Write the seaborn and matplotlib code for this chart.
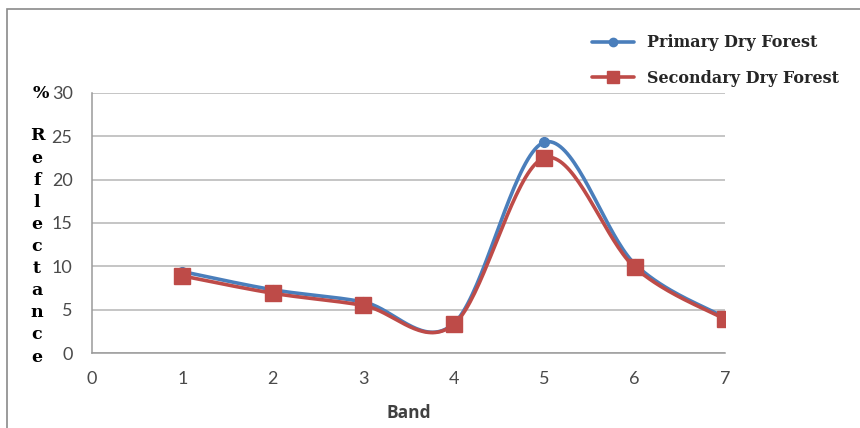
import numpy as np
import pandas as pd
import matplotlib
matplotlib.use("Agg")
import matplotlib.pyplot as plt
from matplotlib.lines import Line2D
from matplotlib.patches import Rectangle
import seaborn as sns

bands = [1, 2, 3, 4, 5, 6, 7]
primary = [9.4, 7.3, 5.9, 3.4, 24.3, 10.3, 4.1]
secondary = [8.9, 6.9, 5.5, 3.3, 22.5, 9.9, 3.9]
series_names = ["Primary Dry Forest", "Secondary Dry Forest"]
colors = ["#4A7EBB", "#BE4B48"]
yticks = [0, 5, 10, 15, 20, 25, 30]
xticks = [0, 1, 2, 3, 4, 5, 6, 7]


def smooth(x, y, n=40):
    """Excel-style smoothed line (Catmull-Rom / Bezier) through the data points."""
    x = np.asarray(x, float)
    y = np.asarray(y, float)
    px = np.concatenate([[x[0]], x, [x[-1]]])
    py = np.concatenate([[y[0]], y, [y[-1]]])
    xs, ys = [], []
    t = np.linspace(0, 1, n)
    for i in range(1, len(px) - 2):
        p0, p1, p2, p3 = (np.array([px[j], py[j]]) for j in (i - 1, i, i + 1, i + 2))
        c1 = p1 + (p2 - p0) / 6
        c2 = p2 - (p3 - p1) / 6
        b = ((1 - t) ** 3)[:, None] * p1 + (3 * (1 - t) ** 2 * t)[:, None] * c1 \
            + (3 * (1 - t) * t ** 2)[:, None] * c2 + (t ** 3)[:, None] * p2
        xs.extend(b[:, 0])
        ys.extend(b[:, 1])
    return np.array(xs), np.array(ys)


sns.set_style("white")
fig = plt.figure(figsize=(8.6, 4.28), dpi=100)
ax = fig.add_axes([0.107, 0.175, 0.736, 0.608])

# outer chart frame
fig.patches.append(Rectangle((0.008, -0.05), 1.2, 1.03, transform=fig.transFigure,
                             fill=False, edgecolor="#8a8a8a", linewidth=1.2))

for name, vals, col, mk, ms in [(series_names[0], primary, colors[0], "o", 7),
                                (series_names[1], secondary, colors[1], "s", 11)]:
    sx, sy = smooth(bands, vals)
    df = pd.DataFrame({"x": sx, "y": sy})
    sns.lineplot(data=df, x="x", y="y", ax=ax, color=col, linewidth=2.6,
                 sort=False, estimator=None)
    ax.plot(bands, vals, linestyle="none", marker=mk, markersize=ms,
            color=col, markeredgecolor=col, zorder=5)

ax.set_xlim(0, 7)
ax.set_ylim(0, 30)
ax.set_xticks(xticks)
ax.set_yticks(yticks)
ax.yaxis.grid(True, color="#b5b5b5", linewidth=1.1)
ax.xaxis.grid(False)
for s in ["top", "right"]:
    ax.spines[s].set_visible(False)
for s in ["left", "bottom"]:
    ax.spines[s].set_color("#9a9a9a")
    ax.spines[s].set_linewidth(1.1)
ax.tick_params(axis="both", which="both", direction="out", length=5, width=1,
               color="#9a9a9a", labelsize=13, labelcolor="#4a4a4a")
ax.tick_params(axis="y", pad=9)
ax.tick_params(axis="x", pad=8)
for lab in ax.get_xticklabels() + ax.get_yticklabels():
    lab.set_family("Lato")
ax.set_ylabel("")
ax.set_xlabel("Band", fontsize=12.5, fontweight="bold", color="#404040",
              family="Open Sans", labelpad=12)

# vertical stacked y label
fig.text(41 / 860, 1 - 93 / 428, "%", ha="center", va="center", fontsize=12.5,
         fontweight="bold", family="DejaVu Serif", color="black")
letters = "Reflectance"
for i, ch in enumerate(letters):
    fig.text(37 / 860, 1 - (136 + i * 22.1) / 428, ch, ha="center", va="center",
             fontsize=12.5, fontweight="bold", family="DejaVu Serif", color="black")

handles = [Line2D([], [], color=colors[0], marker="o", markersize=6, linewidth=2.6),
           Line2D([], [], color=colors[1], marker="s", markersize=8, linewidth=2.6)]
leg = fig.legend(handles, series_names, loc="upper left",
                 bbox_to_anchor=(578 / 860, 1 - 20 / 428), frameon=False,
                 prop={"family": "DejaVu Serif", "weight": "bold", "size": 11.5},
                 handlelength=2.6, labelspacing=1.15, handletextpad=0.8)

fig.savefig("out.png", dpi=100)
